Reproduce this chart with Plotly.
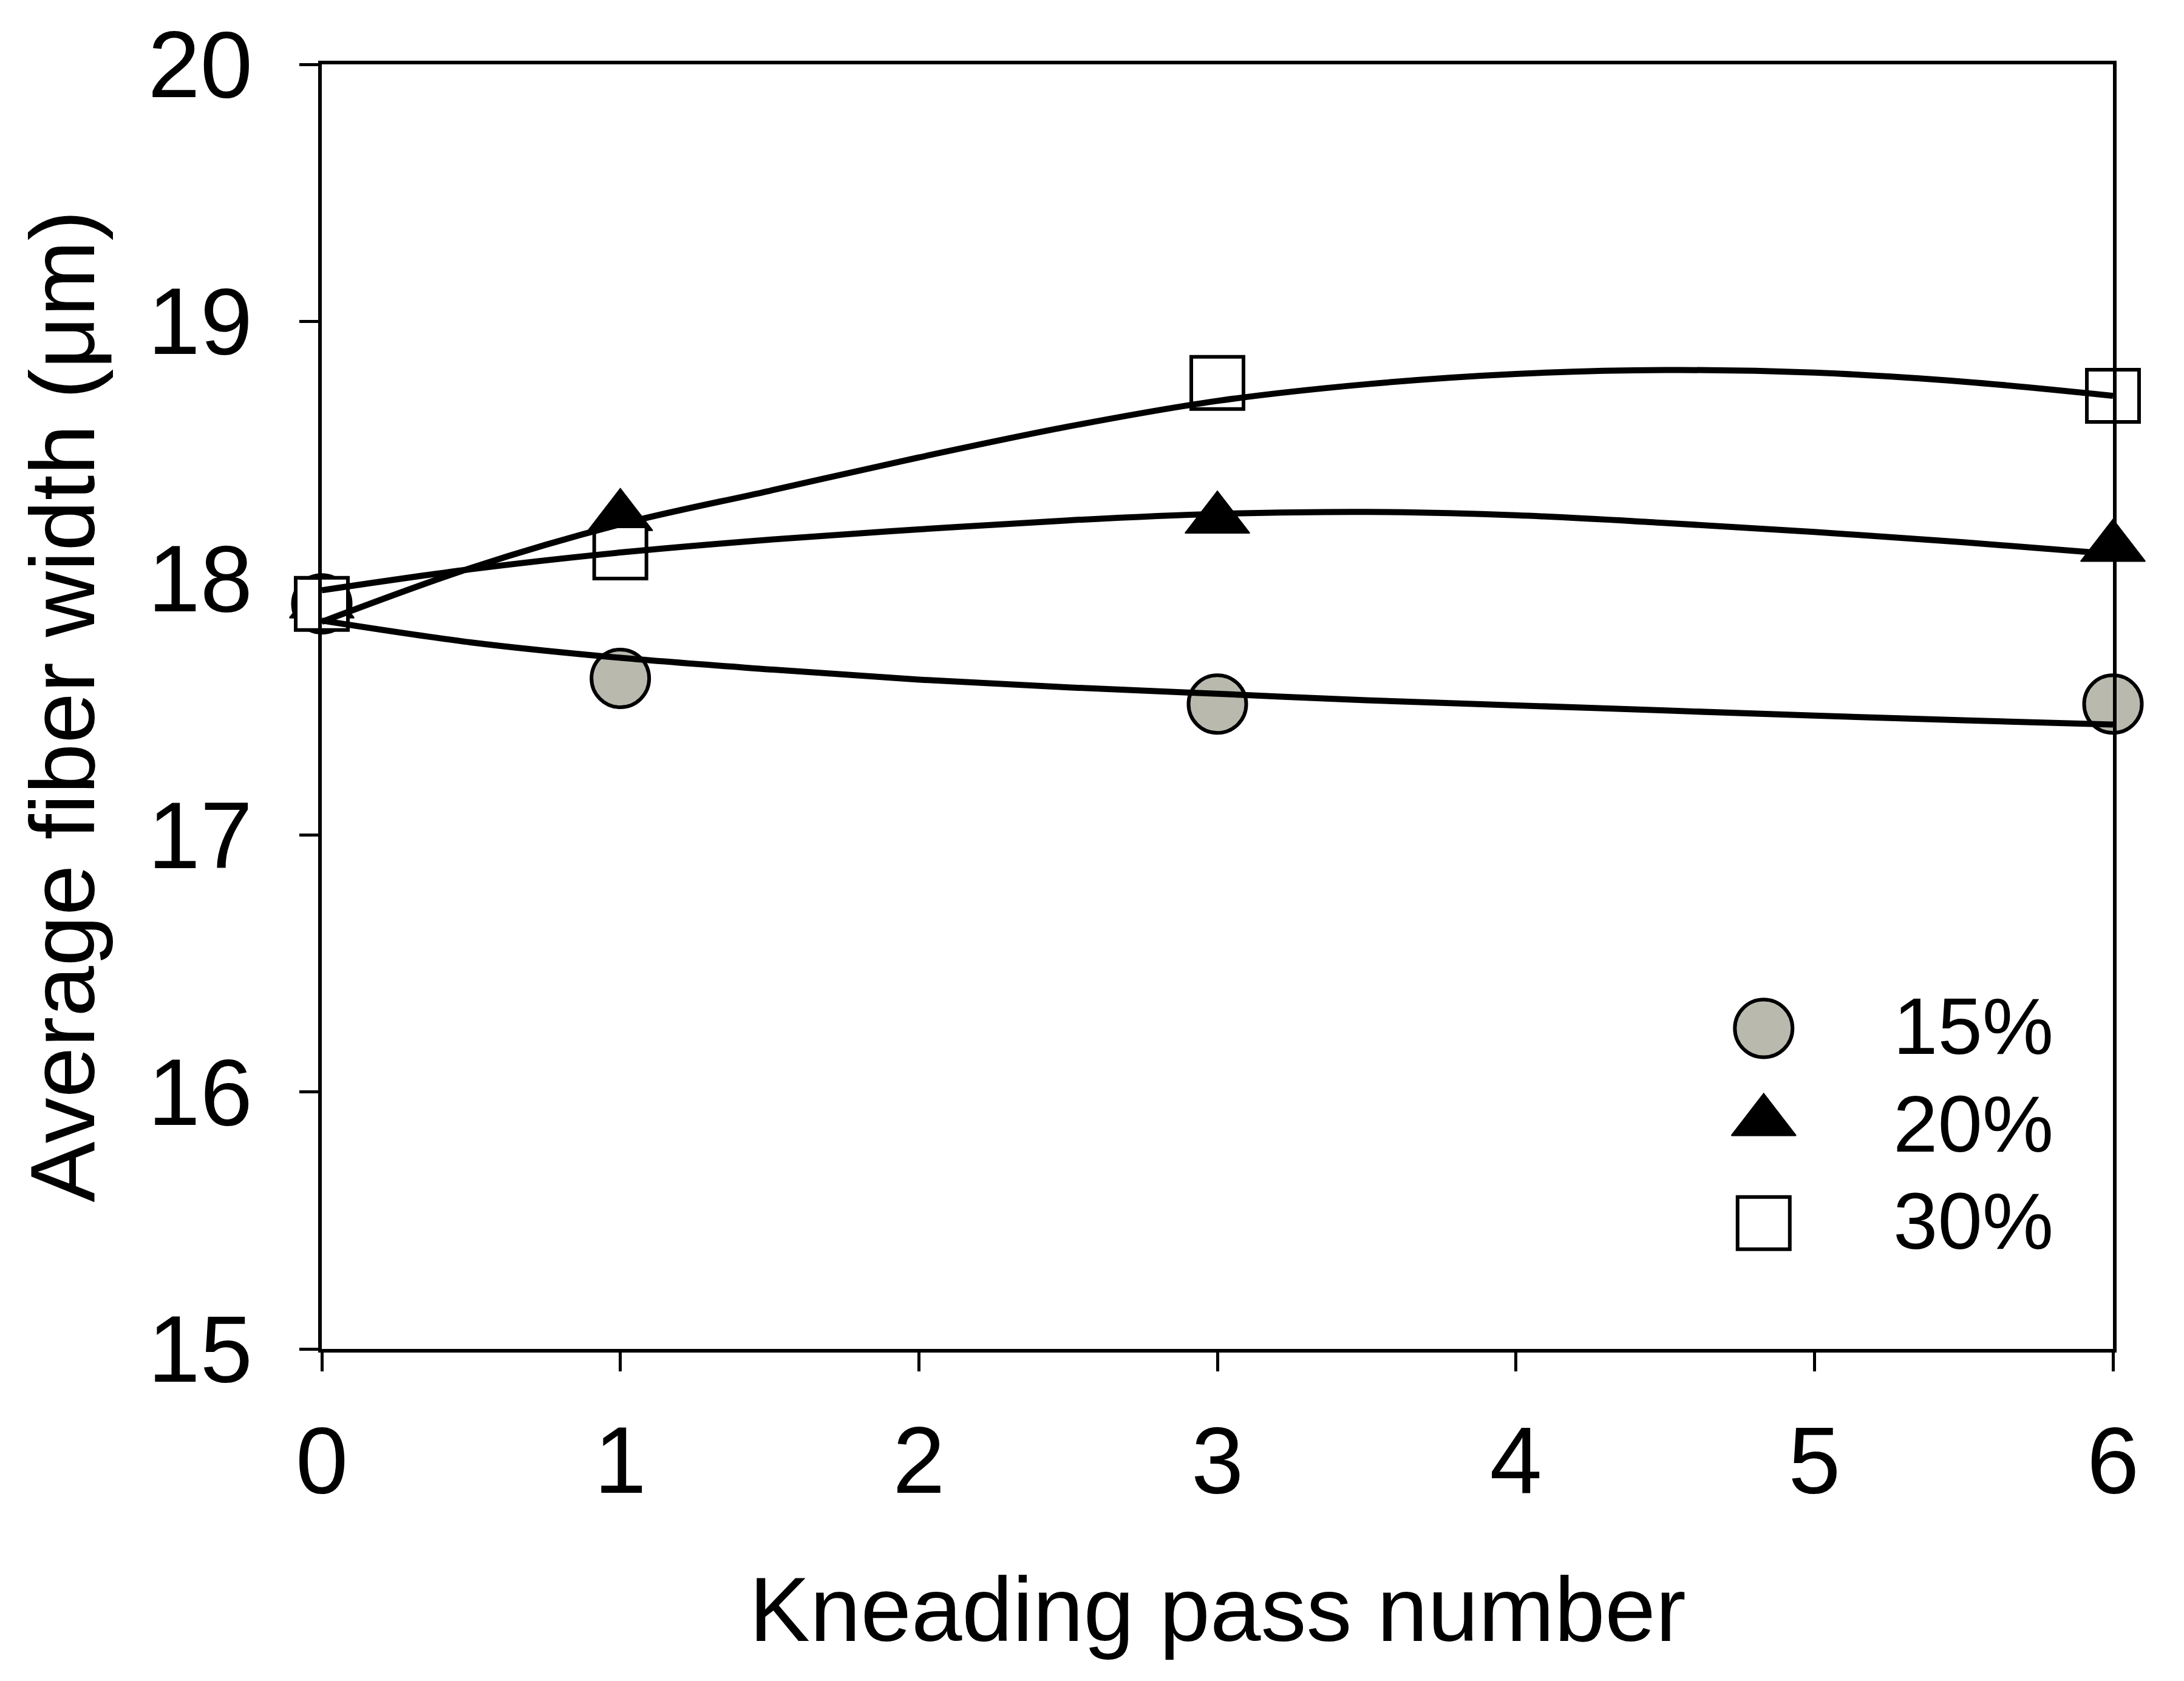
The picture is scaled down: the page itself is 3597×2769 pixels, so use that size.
import plotly.graph_objects as go

# ---- data ----
passes = [0, 1, 3, 6]
width_15 = [17.90, 17.61, 17.51, 17.51]
width_20 = [17.90, 18.24, 18.23, 18.12]
width_30 = [17.90, 18.10, 18.76, 18.71]

# trend curves
fit_x = [0, 0.5, 1, 1.5, 2, 2.5, 3, 3.5, 4, 4.5, 5, 5.5, 6]
fit_15 = [17.835, 17.75, 17.69, 17.645, 17.605, 17.575, 17.55, 17.525, 17.505, 17.485, 17.465, 17.447, 17.43]
fit_20 = [17.953, 18.035, 18.10, 18.15, 18.19, 18.225, 18.25, 18.258, 18.245, 18.215, 18.18, 18.14, 18.094]
fit_30 = [17.83, 18.04, 18.21, 18.34, 18.47, 18.59, 18.69, 18.755, 18.795, 18.81, 18.80, 18.765, 18.71]

legend_labels = ["15%", "20%", "30%"]
x_ticks = [0, 1, 2, 3, 4, 5, 6]
y_ticks = [15, 16, 17, 18, 19, 20]

# legend placement (paper fractions of plot area)
leg_mx = [0.805, 0.805, 0.805]
leg_my = [0.2495, 0.177, 0.098]
leg_tx = 0.8765
leg_ty = [0.251, 0.175, 0.0995]

FONT = "Liberation Sans, Arial, sans-serif"
GREY = "#b9b9ae"

fig = go.Figure()

fig.add_trace(go.Scatter(x=passes, y=width_15, mode="markers", cliponaxis=False,
                         marker=dict(symbol="circle", size=95, color=GREY,
                                     line=dict(color="black", width=6)), showlegend=False))
fig.add_trace(go.Scatter(x=passes, y=width_20, mode="markers", cliponaxis=False,
                         marker=dict(symbol="triangle-up", size=92, color="black",
                                     line=dict(color="black", width=2)), showlegend=False))
fig.add_trace(go.Scatter(x=passes, y=width_30, mode="markers", cliponaxis=False,
                         marker=dict(symbol="square", size=86, color="white",
                                     line=dict(color="black", width=6)), showlegend=False))

for fy in (fit_15, fit_20, fit_30):
    fig.add_trace(go.Scatter(x=fit_x, y=fy, mode="lines", cliponaxis=False,
                             line=dict(color="black", width=10, shape="spline"),
                             showlegend=False))

# legend symbols on an overlay axis
styles = [
    dict(symbol="circle", size=95, color=GREY, line=dict(color="black", width=6)),
    dict(symbol="triangle-up", size=92, color="black", line=dict(color="black", width=2)),
    dict(symbol="square", size=86, color="white", line=dict(color="black", width=6)),
]
for i, st in enumerate(styles):
    fig.add_trace(go.Scatter(x=[leg_mx[i]], y=[leg_my[i]], mode="markers", xaxis="x2", yaxis="y2",
                             cliponaxis=False, marker=st, showlegend=False))
    fig.add_annotation(xref="paper", yref="paper", x=leg_tx, y=leg_ty[i], text=legend_labels[i],
                       showarrow=False, xanchor="left", yanchor="middle",
                       font=dict(family=FONT, size=132, color="black"))

fig.add_annotation(xref="paper", yref="paper", x=0.5, y=-0.2028, text="Kneading pass number",
                   showarrow=False, xanchor="center", yanchor="middle",
                   font=dict(family=FONT, size=150, color="black"))
fig.add_annotation(xref="paper", yref="paper", x=-0.1449, y=0.5, text="Average fiber width (\u03bcm)",
                   showarrow=False, xanchor="center", yanchor="middle", textangle=-90,
                   font=dict(family=FONT, size=150, color="black"))

axis_common = dict(showgrid=False, zeroline=False, showline=True, linecolor="black", linewidth=6,
                   mirror=True, ticks="outside", ticklen=31, tickwidth=5, tickcolor="black",
                   tickfont=dict(family=FONT, size=155, color="black"))

fig.update_layout(
    width=3597, height=2769,
    margin=dict(l=522, r=125, t=89, b=555),
    paper_bgcolor="white", plot_bgcolor="white",
    showlegend=False,
    xaxis=dict(range=[0, 6], tickvals=x_ticks, ticklabelstandoff=14, **axis_common),
    yaxis=dict(range=[15, 20], tickvals=y_ticks, ticklabelstandoff=46, **axis_common),
    xaxis2=dict(overlaying="x", range=[0, 1], visible=False),
    yaxis2=dict(overlaying="y", range=[0, 1], visible=False),
)

fig.write_html("out.html")
